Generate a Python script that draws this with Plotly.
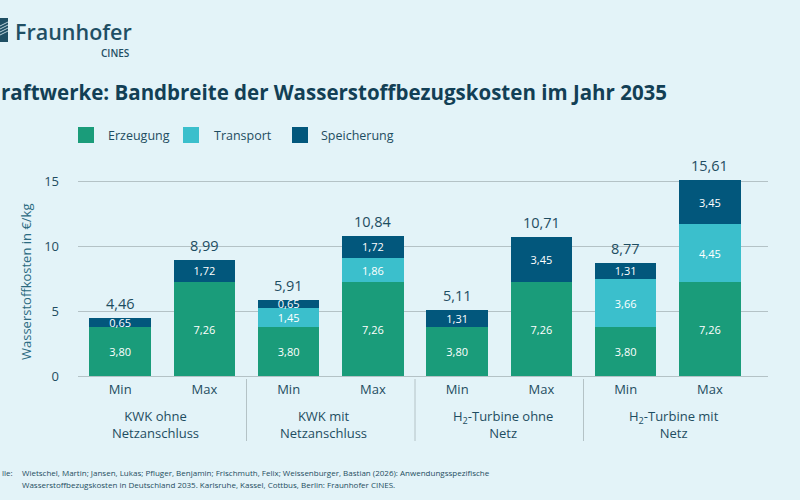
import plotly.graph_objects as go

# ---------------- data ----------------
bar_labels = ["Min", "Max", "Min", "Max", "Min", "Max", "Min", "Max"]
groups = ["KWK ohne<br>Netzanschluss", "KWK mit<br>Netzanschluss",
          "H<sub>2</sub>-Turbine ohne<br>Netz", "H<sub>2</sub>-Turbine mit<br>Netz"]
series_names = ["Erzeugung", "Transport", "Speicherung"]
erzeugung = [3.80, 7.26, 3.80, 7.26, 3.80, 7.26, 3.80, 7.26]
transport = [None, None, 1.45, 1.86, None, None, 3.66, 4.45]
speicherung = [0.65, 1.72, 0.65, 1.72, 1.31, 3.45, 1.31, 3.45]
totals = [4.46, 8.99, 5.91, 10.84, 5.11, 10.71, 8.77, 15.61]
y_ticks = [0, 5, 10, 15]

colors = ["#1A9C7A", "#3BBFCC", "#02577C"]
BG = "#E3F3F8"
TXT = "#1E4D61"
GRID = "#B4C2C6"
FONT = "Open Sans"

# ---------------- layout geometry ----------------
W, H = 800, 500
L, R, T, B = 78, 32, 156, 124
PW, PH = W - L - R, H - T - B


def pxx(px):
    return (px - L) / PW


def pxy(py):
    return (H - B - py) / PH


def fmt(v):
    return "" if v is None else f"{v:.2f}".replace(".", ",")


xs = list(range(len(bar_labels)))
fig = go.Figure()
for name, vals, col in zip(series_names, [erzeugung, transport, speicherung], colors):
    fig.add_trace(go.Bar(
        x=xs, y=vals, name=name, marker=dict(color=col, line=dict(width=0)),
        width=0.73, text=[fmt(v) for v in vals], textposition="inside",
        insidetextanchor="middle", textangle=0,
        textfont=dict(color="white", size=11, family=FONT),
        showlegend=False, hoverinfo="skip"))

stack_tops = [sum(v for v in (a, b, c) if v is not None)
              for a, b, c in zip(erzeugung, transport, speicherung)]

annotations = []
shapes = []

# totals above bars
for xi, top, tot in zip(xs, stack_tops, totals):
    annotations.append(dict(x=xi, y=top, xref="x", yref="y", text=fmt(tot),
                            showarrow=False, yanchor="bottom", yshift=3,
                            font=dict(size=14.5, color=TXT, family=FONT, weight=500)))

# group labels and separators
group_shift = [-7, -7, 4, 6]
for gi, (g, sh) in enumerate(zip(groups, group_shift)):
    annotations.append(dict(x=gi * 2 + 0.5, y=pxy(424.5), xref="x", yref="paper",
                            text=g, showarrow=False, yanchor="middle", xshift=sh,
                            font=dict(size=13, color=TXT, family=FONT)))
for sx in [1.5, 3.5, 5.5]:
    shapes.append(dict(type="line", xref="x", yref="paper", x0=sx, x1=sx,
                       y0=pxy(379), y1=pxy(441), line=dict(color=GRID, width=1)))

# legend (manual)
leg_sq = [78, 183, 292]
leg_tx = [106, 212, 319]
for name, col, sq, tx in zip(series_names, colors, leg_sq, leg_tx):
    shapes.append(dict(type="rect", xref="paper", yref="paper",
                       x0=pxx(sq), x1=pxx(sq + 16), y0=pxy(127), y1=pxy(143),
                       fillcolor=col, line=dict(width=0)))
    annotations.append(dict(x=pxx(tx), y=pxy(135), xref="paper", yref="paper",
                            text=name, showarrow=False, xanchor="left", yanchor="middle",
                            font=dict(size=12.5, color=TXT, family=FONT)))

# title
annotations.append(dict(x=pxx(-1), y=pxy(92), xref="paper", yref="paper",
                        text="<b>raftwerke: Bandbreite der Wasserstoffbezugskosten im Jahr 2035</b>",
                        showarrow=False, xanchor="left", yanchor="middle",
                        font=dict(size=20.5, color="#123F55", family=FONT)))

# y axis title
annotations.append(dict(x=pxx(26), y=pxy(282), xref="paper", yref="paper",
                        text="Wasserstoffkosten in €/kg", textangle=-90,
                        showarrow=False, xanchor="center", yanchor="middle",
                        font=dict(size=13, color="#2A6A80", family=FONT)))

# footer
annotations.append(dict(x=pxx(0), y=pxy(472), xref="paper", yref="paper",
                        text="lle:", showarrow=False, xanchor="left", yanchor="middle",
                        font=dict(size=8, color=TXT, family=FONT)))
annotations.append(dict(x=pxx(20), y=pxy(472), xref="paper", yref="paper",
                        text="Wietschel, Martin; Jansen, Lukas; Pfluger, Benjamin; Frischmuth, Felix; Weissenburger, Bastian (2026): Anwendungsspezifische",
                        showarrow=False, xanchor="left", yanchor="middle",
                        font=dict(size=8, color=TXT, family=FONT)))
annotations.append(dict(x=pxx(20), y=pxy(484), xref="paper", yref="paper",
                        text="Wasserstoffbezugskosten in Deutschland 2035. Karlsruhe, Kassel, Cottbus, Berlin: Fraunhofer CINES.",
                        showarrow=False, xanchor="left", yanchor="middle",
                        font=dict(size=8, color=TXT, family=FONT)))

# logo
annotations.append(dict(x=pxx(13), y=pxy(32), xref="paper", yref="paper",
                        text="Fraunhofer", showarrow=False, xanchor="left", yanchor="middle",
                        font=dict(size=21.5, color="#1F4F64", family=FONT, weight=600)))
annotations.append(dict(x=pxx(132), y=pxy(53), xref="paper", yref="paper",
                        text="CINES", showarrow=False, xanchor="right", yanchor="middle",
                        font=dict(size=10, color="#1F4F64", family=FONT, weight=600)))
shapes.append(dict(type="rect", xref="paper", yref="paper",
                   x0=pxx(0), x1=pxx(8), y0=pxy(18), y1=pxy(42),
                   fillcolor="#1F4F64", line=dict(width=0)))
for k in range(4):
    shapes.append(dict(type="line", xref="paper", yref="paper",
                       x0=pxx(0), x1=pxx(8), y0=pxy(26 + k * 3), y1=pxy(22 + k * 3),
                       line=dict(color="#E3F3F8", width=0.8)))

fig.update_layout(
    width=W, height=H, barmode="stack",
    margin=dict(l=L, r=R, t=T, b=B),
    paper_bgcolor=BG, plot_bgcolor=BG,
    font=dict(family=FONT, color=TXT),
    uniformtext=dict(minsize=11, mode="show"),
    annotations=annotations, shapes=shapes,
    xaxis=dict(range=[-0.5, 7.69], tickvals=xs, ticktext=bar_labels,
               showgrid=False, zeroline=False, showline=False,
               tickfont=dict(size=13, color=TXT, family=FONT),
               ticks="", ticklabelstandoff=4, fixedrange=True),
    yaxis=dict(range=[0, 17], tickvals=y_ticks, showgrid=True, gridcolor=GRID,
               gridwidth=1, zeroline=True, zerolinecolor=GRID, zerolinewidth=1,
               showline=False, ticks="", ticklabelstandoff=18,
               tickfont=dict(size=13, color=TXT, family=FONT), fixedrange=True),
)

fig.write_html("out.html")
